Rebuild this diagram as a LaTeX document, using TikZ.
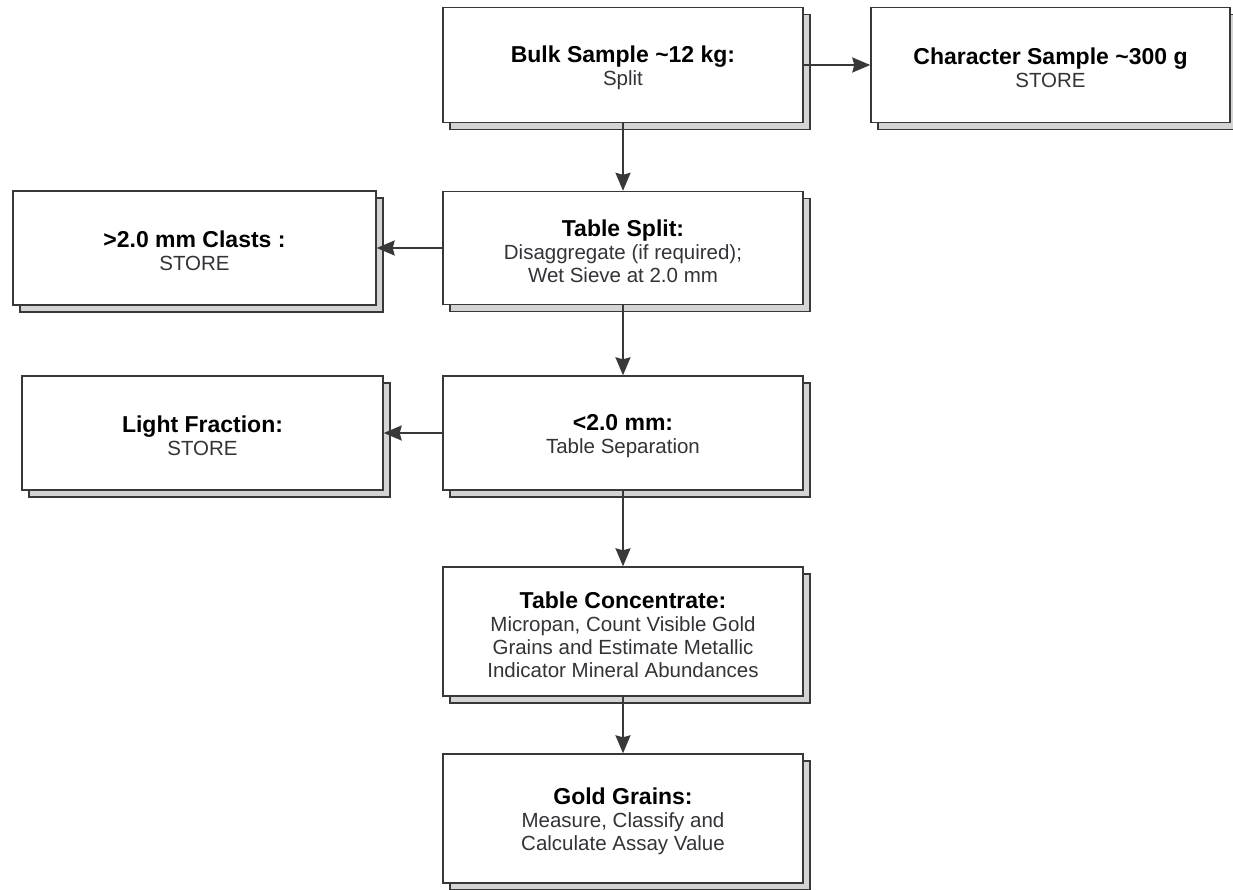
\documentclass[tikz,border=0pt]{standalone}
\usepackage{fontspec}
\setmainfont{Liberation Sans}
\usetikzlibrary{arrows.meta, shadows}
\definecolor{LineGray}{rgb}{0.22, 0.22, 0.22}
\definecolor{ShadowGray}{rgb}{0.83, 0.83, 0.83}
\definecolor{TextGray}{rgb}{0.2, 0.2, 0.22}

\tikzset{
    caja/.style={draw=LineGray, line width=1.4pt, fill=white, align=center, inner sep=0pt,
        font=\fontsize{20.5}{23}\selectfont, text=TextGray,
        general shadow={fill=ShadowGray, draw=LineGray, line width=1.2pt,
            shadow xshift=7pt, shadow yshift=-7pt}},
    flecha/.style={LineGray, line width=2pt, -{Stealth[length=18pt, width=15pt, inset=2pt]}}
}

\begin{document}
\begin{tikzpicture}[x=1pt, y=-1pt]
\useasboundingbox (0,0) rectangle (1233,890);

% cajas
\foreach \n/\x/\y/\w/\h/\ta/\tb in {%
    bulk/623/65/360/115/{Bulk Sample \textasciitilde12 kg:}/{Split},
    chara/1050.5/65/359/115/{Character Sample \textasciitilde300 g}/{STORE},
    split/623/248/360/113/{Table Split:}/{Disaggregate (if required);\\Wet Sieve at 2.0 mm},
    clasts/194.5/248/363/114/{>2.0 mm Clasts :}/{STORE},
    fine/623/433/360/114/{<2.0 mm:}/{Table Separation},
    light/202.5/433/361/114/{Light Fraction:}/{STORE},
    conc/623/631.5/360/129/{Table Concentrate:}/{Micropan, Count Visible Gold\\Grains and Estimate Metallic\\Indicator Mineral Abundances},
    gold/623/818.5/360/129/{Gold Grains:}/{Measure, Classify and\\Calculate Assay Value}}{%
    \node[caja, minimum width=\w pt, minimum height=\h pt] (\n) at (\x,\y)
        {\rule{0pt}{23pt}{\fontsize{23}{23}\selectfont\bfseries\color{black}\ta}\\\tb};
}

% flechas
\draw[flecha] (bulk.east) -- (chara.west);
\draw[flecha] (split.west) -- (clasts.east);
\draw[flecha] (fine.west) -- (light.east);
\foreach \a/\b in {bulk/split, split/fine, fine/conc, conc/gold}{
    \draw[flecha] (\a.south) -- (\b.north);
}

\end{tikzpicture}
\end{document}
